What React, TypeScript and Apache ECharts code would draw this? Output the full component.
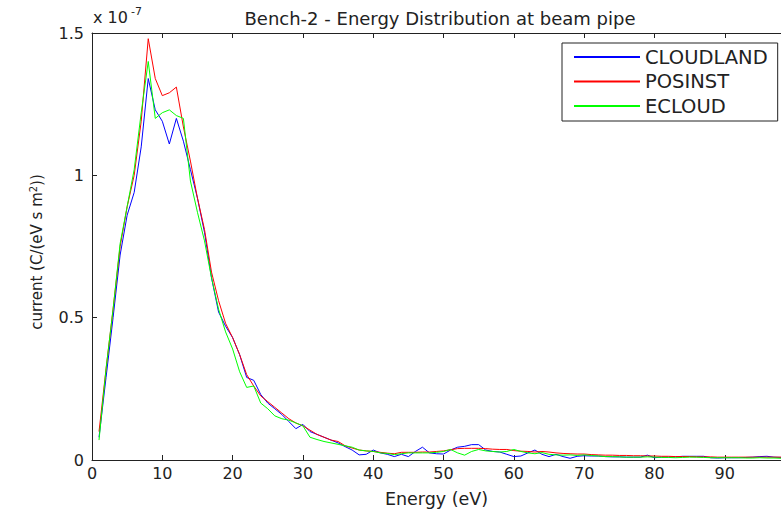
import React, { useEffect, useRef } from "react";
import * as echarts from "echarts";

const energies: number[] = Array.from({ length: 98 }, (_, i) => i + 1);

const cloudland: number[] = [
  0.08, 0.29, 0.50, 0.72, 0.86, 0.94, 1.10, 1.34, 1.23, 1.19,
  1.11, 1.20, 1.12, 1.02, 0.92, 0.80, 0.64, 0.52, 0.47, 0.43,
  0.37, 0.29, 0.28, 0.23, 0.20, 0.18, 0.16, 0.135, 0.11, 0.125,
  0.10, 0.09, 0.08, 0.07, 0.06, 0.047, 0.035, 0.018, 0.02, 0.035,
  0.025, 0.02, 0.012, 0.02, 0.012, 0.03, 0.045, 0.025, 0.022, 0.021,
  0.035, 0.045, 0.048, 0.054, 0.054, 0.035, 0.03, 0.028, 0.02, 0.012,
  0.014, 0.025, 0.035, 0.02, 0.012, 0.02, 0.012, 0.006, 0.013, 0.015,
  0.014, 0.014, 0.012, 0.011, 0.011, 0.010, 0.010, 0.010, 0.017, 0.008,
  0.010, 0.010, 0.011, 0.013, 0.013, 0.013, 0.013, 0.008, 0.007, 0.008,
  0.008, 0.008, 0.009, 0.010, 0.012, 0.013, 0.010, 0.009,
];

const posinst: number[] = [
  0.10, 0.32, 0.53, 0.75, 0.89, 1.00, 1.19, 1.48, 1.34, 1.28,
  1.29, 1.31, 1.17, 1.05, 0.92, 0.81, 0.66, 0.56, 0.48, 0.43,
  0.37, 0.30, 0.26, 0.225, 0.205, 0.185, 0.165, 0.145, 0.13, 0.12,
  0.105, 0.09, 0.08, 0.07, 0.065, 0.05, 0.042, 0.035, 0.032, 0.03,
  0.027, 0.024, 0.022, 0.027, 0.027, 0.027, 0.028, 0.028, 0.030, 0.032,
  0.036, 0.040, 0.041, 0.041, 0.041, 0.040, 0.038, 0.037, 0.037, 0.033,
  0.031, 0.030, 0.028, 0.030, 0.028, 0.025, 0.023, 0.022, 0.021, 0.021,
  0.019, 0.018, 0.017, 0.017, 0.016, 0.016, 0.015, 0.015, 0.014, 0.014,
  0.013, 0.013, 0.012, 0.012, 0.012, 0.011, 0.011, 0.011, 0.010, 0.010,
  0.010, 0.010, 0.010, 0.010, 0.010, 0.010, 0.010, 0.010,
];

const ecloud: number[] = [
  0.07, 0.32, 0.53, 0.76, 0.89, 1.02, 1.22, 1.40, 1.20, 1.22,
  1.23, 1.21, 1.20, 0.98, 0.87, 0.77, 0.64, 0.53, 0.45, 0.39,
  0.31, 0.255, 0.26, 0.20, 0.18, 0.155, 0.145, 0.14, 0.13, 0.12,
  0.08, 0.072, 0.065, 0.06, 0.055, 0.05, 0.045, 0.035, 0.032, 0.03,
  0.025, 0.023, 0.019, 0.022, 0.025, 0.025, 0.025, 0.025, 0.027, 0.030,
  0.037, 0.025, 0.017, 0.030, 0.037, 0.032, 0.030, 0.028, 0.030, 0.037,
  0.030, 0.025, 0.022, 0.026, 0.020, 0.018, 0.017, 0.018, 0.016, 0.018,
  0.016, 0.014, 0.012, 0.012, 0.011, 0.010, 0.010, 0.010, 0.011, 0.010,
  0.009, 0.009, 0.008, 0.009, 0.010, 0.010, 0.009, 0.008, 0.008, 0.008,
  0.008, 0.008, 0.007, 0.007, 0.008, 0.007, 0.007, 0.006,
];

const seriesNames = ["CLOUDLAND", "POSINST", "ECLOUD"];
const seriesColors = ["#0000ff", "#ff0000", "#00ff00"];
const seriesValues = [cloudland, posinst, ecloud];

const FONT = "DejaVu Sans, Verdana, sans-serif";
const TXT = "#222";

export default function App() {
  const ref = useRef<HTMLDivElement>(null);
  useEffect(() => {
    if (!ref.current) return;
    const chart = echarts.init(ref.current, undefined, { renderer: "svg" });
    const axisLine = { show: true, lineStyle: { color: "#222", width: 1 } };
    chart.setOption({
      animation: false,
      backgroundColor: "#fff",
      title: {
        text: "Bench-2 - Energy Distribution at beam pipe",
        left: 435,
        textAlign: "center",
        top: 4,
        textStyle: { fontFamily: FONT, fontSize: 18, fontWeight: "normal", color: TXT },
      },
      grid: { left: 92, top: 33, height: 433, width: 691, containLabel: false },
      legend: {
        orient: "vertical",
        left: 562,
        top: 43,
        data: seriesNames,
        icon: "rect",
        itemWidth: 66,
        itemHeight: 2,
        itemGap: 4.5,
        padding: [4, 10, 5, 12],
        borderColor: "#222",
        borderWidth: 1,
        backgroundColor: "#fff",
        textStyle: { fontFamily: FONT, fontSize: 19.5, color: TXT, lineHeight: 19 },
      },
      xAxis: [
        {
          type: "value",
          min: 0,
          max: 98,
          interval: 10,
          position: "bottom",
          name: "Energy (eV)",
          nameLocation: "middle",
          nameGap: 30,
          nameTextStyle: { fontFamily: FONT, fontSize: 17.5, color: TXT },
          axisLine,
          axisTick: { show: true, inside: true, length: 5, lineStyle: { color: "#222" } },
          axisLabel: { fontFamily: FONT, fontSize: 16, color: TXT, margin: 5, showMaxLabel: false },
          splitLine: { show: false },
        },
        {
          type: "value",
          min: 0,
          max: 98,
          interval: 10,
          position: "top",
          axisLine,
          axisTick: { show: true, inside: true, length: 5, lineStyle: { color: "#222" } },
          axisLabel: { show: false },
          splitLine: { show: false },
        },
      ],
      yAxis: {
        type: "value",
        min: 0,
        max: 1.5,
        interval: 0.5,
        axisLine,
        axisTick: { show: true, inside: true, length: 5, lineStyle: { color: "#222" } },
        axisLabel: { fontFamily: FONT, fontSize: 16, color: TXT, margin: 8 },
        splitLine: { show: false },
      },
      graphic: [
        {
          type: "text",
          left: 93,
          top: 9,
          style: { text: "x 10", fontFamily: FONT, fontSize: 16, fill: TXT },
        },
        {
          type: "text",
          left: 131,
          top: 6,
          style: { text: "-7", fontFamily: FONT, fontSize: 11, fill: TXT },
        },
        {
          type: "text",
          x: 37,
          y: 252,
          rotation: Math.PI / 2,
          style: {
            text: "{a|current (C/(eV s m}{s|2}{a|))}",
            align: "center",
            verticalAlign: "middle",
            fill: TXT,
            rich: {
              a: { fontFamily: FONT, fontSize: 15, fill: TXT },
              s: { fontFamily: FONT, fontSize: 10, fill: TXT, padding: [0, 0, 8, 0] },
            },
          },
        },
      ],
      series: seriesNames.map((name, k) => ({
        name,
        type: "line",
        xAxisIndex: 0,
        symbol: "none",
        showSymbol: false,
        lineStyle: { color: seriesColors[k], width: 1 },
        itemStyle: { color: seriesColors[k] },
        data: energies.map((e, i) => [e, seriesValues[k][i]]),
      })),
    });
    return () => chart.dispose();
  }, []);
  return <div ref={ref} style={{ width: 781, height: 513, position: "absolute", left: 0, top: 0 }} />;
}
